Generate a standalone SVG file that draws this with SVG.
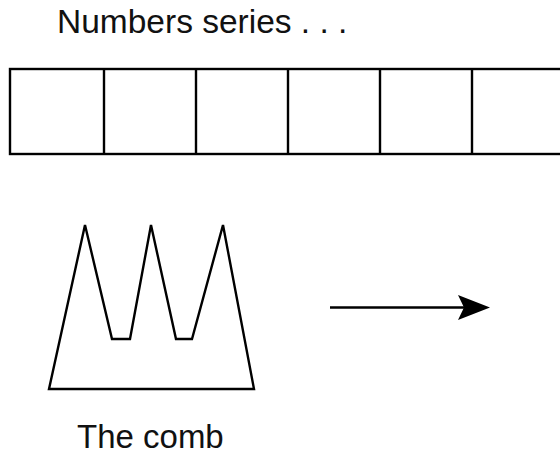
<svg xmlns="http://www.w3.org/2000/svg" width="560" height="455" viewBox="0 0 560 455">
<style>
.t{font-family:"Liberation Sans",Arial,sans-serif;font-size:33.5px;fill:#111}
.s{fill:none;stroke:#000;stroke-width:2.4;stroke-linejoin:miter}
</style>
<rect width="560" height="455" fill="#fff"/>
<g id="title"><text class="t" x="57" y="33">Numbers series . . .</text></g>
<g id="series">
<rect class="s" x="10" y="69" width="560" height="85"/>
<line class="s" x1="104" y1="69" x2="104" y2="154"/>
<line class="s" x1="196" y1="69" x2="196" y2="154"/>
<line class="s" x1="288" y1="69" x2="288" y2="154"/>
<line class="s" x1="380" y1="69" x2="380" y2="154"/>
<line class="s" x1="472" y1="69" x2="472" y2="154"/>
</g>
<g id="comb">
<polygon class="s" points="49,389 85,225 112,339 130,339 151,225 176,339 192,339 223,225 254,389"/>
</g>
<g id="comb-label"><text class="t" x="77" y="448" style="font-size:33px">The comb</text></g>
<g id="connectors">
<line x1="330" y1="307.5" x2="466" y2="307.5" stroke="#000" stroke-width="2.4"/>
<path d="M458,295 L490,307.5 L458,320 L464,307.5 Z" fill="#000"/>
</g>
</svg>
